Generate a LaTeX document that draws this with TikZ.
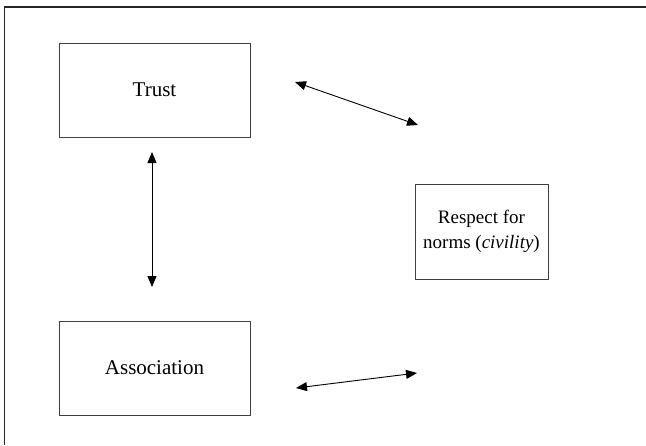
\documentclass[tikz,border=0pt]{standalone}
\usepackage{fontspec}
\setmainfont{Liberation Serif}
\usetikzlibrary{arrows.meta}
\begin{document}
\begin{tikzpicture}[x=1pt,y=-1pt,
  box/.style={draw=black!75,line width=0.9pt,inner sep=0pt,align=center},
  bigtext/.style={font=\fontsize{21}{25}\selectfont},
  smalltext/.style={font=\fontsize{19}{25}\selectfont},
  link/.style={line width=0.9pt,{Triangle[length=11pt,width=9pt]}-{Triangle[length=11pt,width=9pt]}}]
\useasboundingbox (0,0) rectangle (646,445);
\draw[black!85,line width=1.3pt] (646,7) -- (4.7,7) -- (4.7,445);
\node[box,bigtext,minimum width=191pt,minimum height=94pt] (trust) at (154.5,90) {Trust};
\node[box,bigtext,minimum width=191pt,minimum height=94pt] (assoc) at (154.5,368) {Association};
\node[box,smalltext,minimum width=133pt,minimum height=95pt] (resp) at (481.5,231.5) {Respect for\\norms (\textit{civility})};
\coordinate (t1) at (295,82);
\coordinate (r1) at (418,125);
\coordinate (t2) at (152,152);
\coordinate (a2) at (152,287);
\coordinate (a3) at (296,388);
\coordinate (r3) at (417,373);
\draw[link] (t1) -- (r1);
\draw[link] (t2) -- (a2);
\draw[link] (a3) -- (r3);
\end{tikzpicture}
\end{document}
